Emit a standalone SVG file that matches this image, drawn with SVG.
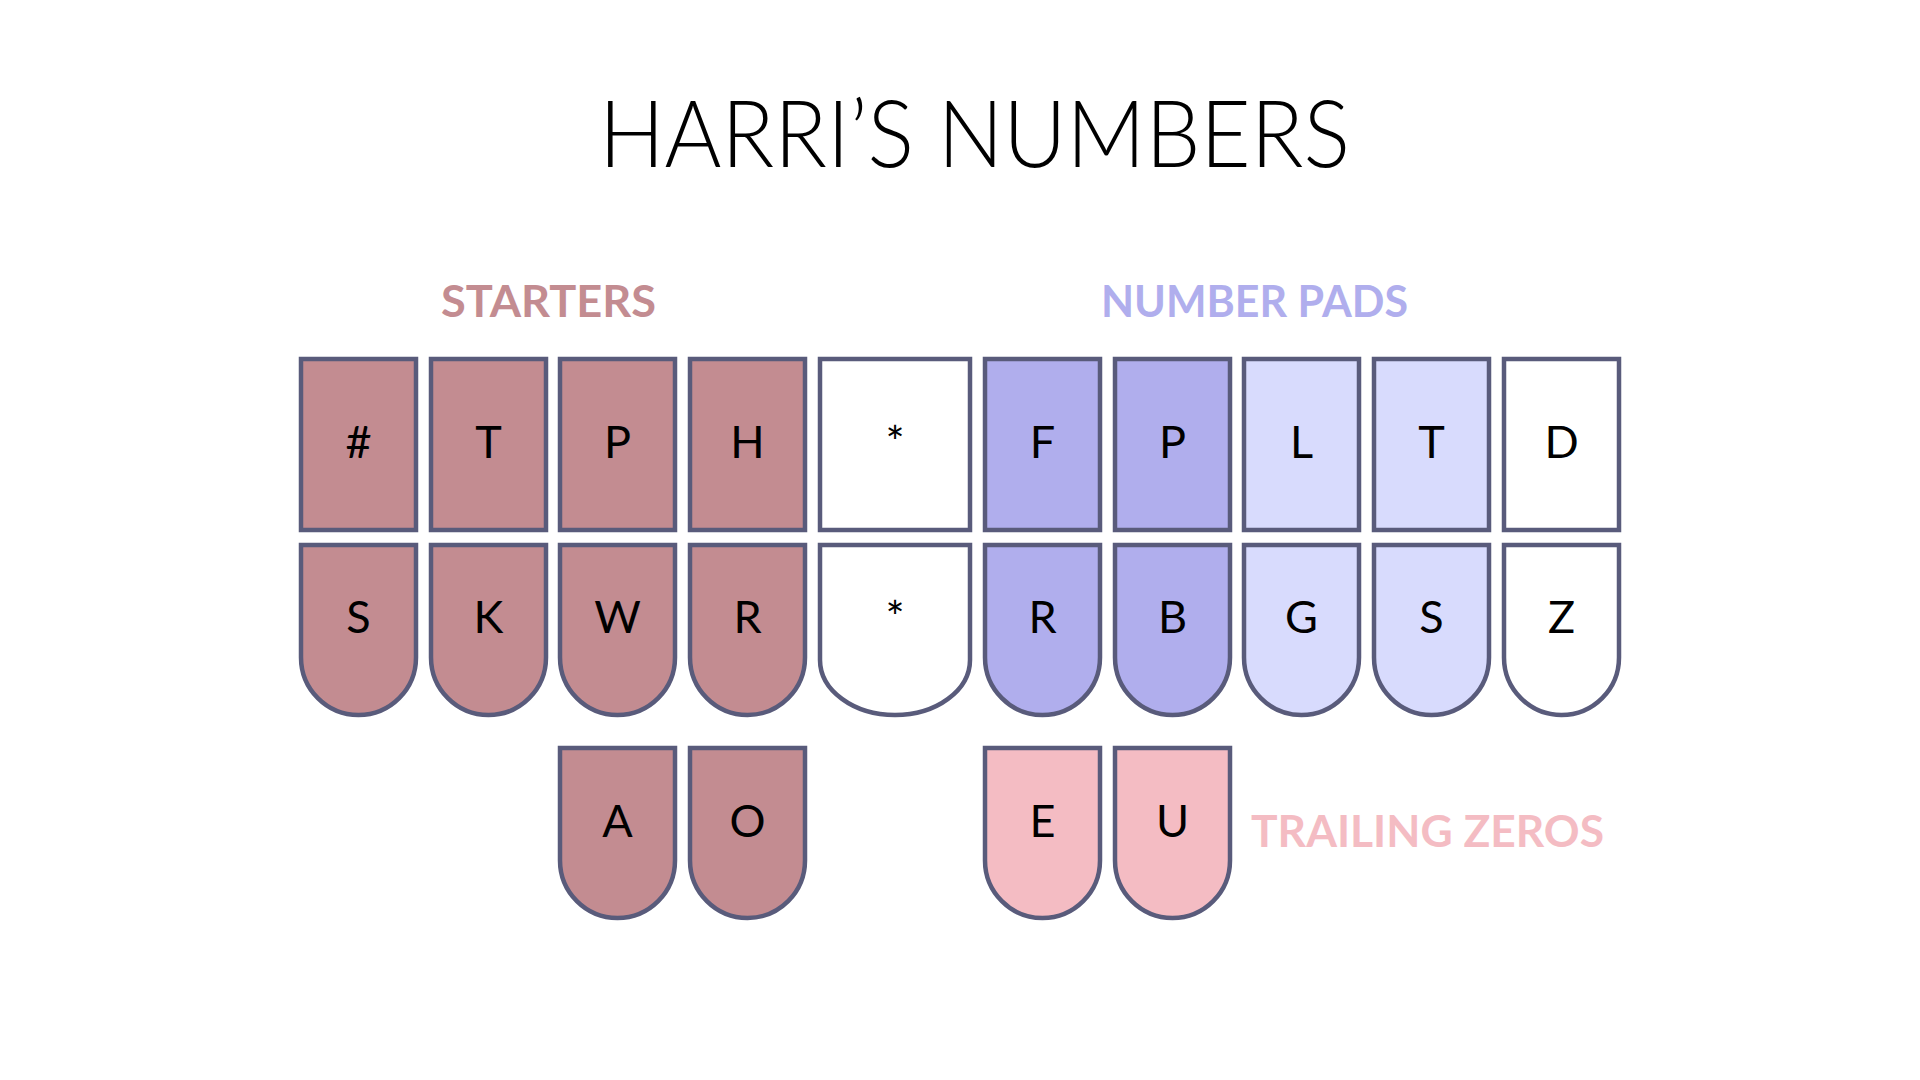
<svg xmlns="http://www.w3.org/2000/svg" width="1920" height="1080" viewBox="0 0 1920 1080">
<style>
.k{stroke:#595b7b;stroke-width:4.5}
.st{fill:#c38c91}
.np{fill:#b0aeed}
.nl{fill:#d8dbfd}
.w{fill:#ffffff}
.tz{fill:#f4bcc3}
.t{font-family:Lato,"Liberation Sans",sans-serif;font-size:45px;font-weight:400;fill:#000;text-anchor:middle}
.lab{font-family:Lato,"Liberation Sans",sans-serif;font-size:43px;font-weight:700}
</style>
<rect width="1920" height="1080" fill="#ffffff"/>
<text x="974.5" y="167" font-family="Lato,'Liberation Sans',sans-serif" font-size="93" font-weight="300" text-anchor="middle" textLength="751" lengthAdjust="spacingAndGlyphs" fill="#000">HARRI’S NUMBERS</text>
<text class="lab" x="441" y="317" fill="#c38c91" textLength="215" lengthAdjust="spacingAndGlyphs">STARTERS</text>
<text class="lab" x="1101" y="317" fill="#b0aeed" textLength="307" lengthAdjust="spacingAndGlyphs">NUMBER PADS</text>
<text class="lab" x="1251" y="847" fill="#f4bcc3" textLength="353" lengthAdjust="spacingAndGlyphs">TRAILING ZEROS</text>
<g id="connectors"/>
<g id="key-hash"><rect class="k st" x="301" y="359" width="115" height="171"/><text class="t" x="358.5" y="458">#</text></g>
<g id="key-T1"><rect class="k st" x="431" y="359" width="115" height="171"/><text class="t" x="488.5" y="458">T</text></g>
<g id="key-P1"><rect class="k st" x="560" y="359" width="115" height="171"/><text class="t" x="617.5" y="458">P</text></g>
<g id="key-H"><rect class="k st" x="690" y="359" width="115" height="171"/><text class="t" x="747.5" y="458">H</text></g>
<g id="key-star1"><rect class="k w" x="820" y="359" width="150" height="171"/><text class="t" x="895" y="458">*</text></g>
<g id="key-F"><rect class="k np" x="985" y="359" width="115" height="171"/><text class="t" x="1042.5" y="458">F</text></g>
<g id="key-P2"><rect class="k np" x="1115" y="359" width="115" height="171"/><text class="t" x="1172.5" y="458">P</text></g>
<g id="key-L"><rect class="k nl" x="1244" y="359" width="115" height="171"/><text class="t" x="1301.5" y="458">L</text></g>
<g id="key-T2"><rect class="k nl" x="1374" y="359" width="115" height="171"/><text class="t" x="1431.5" y="458">T</text></g>
<g id="key-D"><rect class="k w" x="1504" y="359" width="115" height="171"/><text class="t" x="1561.5" y="458">D</text></g>
<g id="key-S1"><path class="k st" d="M301,545H416V657.5A57.5,57.5 0 0 1 301,657.5Z"/><text class="t" x="358.5" y="633">S</text></g>
<g id="key-K"><path class="k st" d="M431,545H546V657.5A57.5,57.5 0 0 1 431,657.5Z"/><text class="t" x="488.5" y="633">K</text></g>
<g id="key-W"><path class="k st" d="M560,545H675V657.5A57.5,57.5 0 0 1 560,657.5Z"/><text class="t" x="617.5" y="633">W</text></g>
<g id="key-R1"><path class="k st" d="M690,545H805V657.5A57.5,57.5 0 0 1 690,657.5Z"/><text class="t" x="747.5" y="633">R</text></g>
<g id="key-star2"><path class="k w" d="M820,545H970V660A75,55 0 0 1 820,660Z"/><text class="t" x="895" y="633">*</text></g>
<g id="key-R2"><path class="k np" d="M985,545H1100V657.5A57.5,57.5 0 0 1 985,657.5Z"/><text class="t" x="1042.5" y="633">R</text></g>
<g id="key-B"><path class="k np" d="M1115,545H1230V657.5A57.5,57.5 0 0 1 1115,657.5Z"/><text class="t" x="1172.5" y="633">B</text></g>
<g id="key-G"><path class="k nl" d="M1244,545H1359V657.5A57.5,57.5 0 0 1 1244,657.5Z"/><text class="t" x="1301.5" y="633">G</text></g>
<g id="key-S2"><path class="k nl" d="M1374,545H1489V657.5A57.5,57.5 0 0 1 1374,657.5Z"/><text class="t" x="1431.5" y="633">S</text></g>
<g id="key-Z"><path class="k w" d="M1504,545H1619V657.5A57.5,57.5 0 0 1 1504,657.5Z"/><text class="t" x="1561.5" y="633">Z</text></g>
<g id="key-A"><path class="k st" d="M560,748H675V860.5A57.5,57.5 0 0 1 560,860.5Z"/><text class="t" x="617.5" y="837">A</text></g>
<g id="key-O"><path class="k st" d="M690,748H805V860.5A57.5,57.5 0 0 1 690,860.5Z"/><text class="t" x="747.5" y="837">O</text></g>
<g id="key-E"><path class="k tz" d="M985,748H1100V860.5A57.5,57.5 0 0 1 985,860.5Z"/><text class="t" x="1042.5" y="837">E</text></g>
<g id="key-U"><path class="k tz" d="M1115,748H1230V860.5A57.5,57.5 0 0 1 1115,860.5Z"/><text class="t" x="1172.5" y="837">U</text></g>
</svg>
